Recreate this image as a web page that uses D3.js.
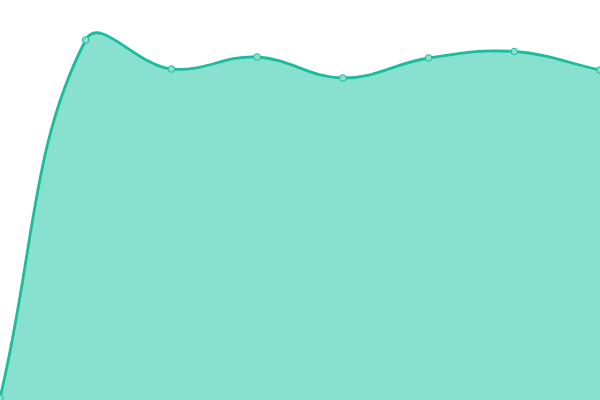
<!DOCTYPE html>
<html lang="en">
<head>
    <meta charset="UTF-8">
    <title>Area</title>
    <style>
        body { margin: 0; background: #fff; }
    </style>
</head>
<body></body>
<script src="https://cdn.jsdelivr.net/npm/d3@7"></script>
<script>
    const categories = [0, 1, 2, 3, 4, 5, 6, 7];
    const values = [2, 360, 331, 343, 322, 342, 348.5, 330];

    let width = 600;
    let height = 400;
    const tension = 0.4;

    let svg = d3.select("body")
                .append("svg")
                .attr("width", width)
                .attr("height", height)

    const x = d3.scaleLinear().domain([0, 7]).range([0, width]);
    const y = d3.scaleLinear().domain([0, 400]).range([height, 0]);

    const pts = categories.map((c, i) => [x(c), y(values[i])]);

    // bezier control points, weighted by distance to neighbours
    function controls(points) {
        return points.map((p, i) => {
            const prev = points[Math.max(i - 1, 0)];
            const next = points[Math.min(i + 1, points.length - 1)];
            const d01 = Math.hypot(p[0] - prev[0], p[1] - prev[1]);
            const d12 = Math.hypot(next[0] - p[0], next[1] - p[1]);
            let s01 = d01 / (d01 + d12) || 0;
            let s12 = d12 / (d01 + d12) || 0;
            const fa = tension * s01, fb = tension * s12;
            return {
                before: [p[0] - fa * (next[0] - prev[0]), p[1] - fa * (next[1] - prev[1])],
                after: [p[0] + fb * (next[0] - prev[0]), p[1] + fb * (next[1] - prev[1])]
            };
        });
    }

    function spline(ctx, points) {
        const cp = controls(points);
        ctx.moveTo(points[0][0], points[0][1]);
        for (let i = 1; i < points.length; i++) {
            ctx.bezierCurveTo(cp[i - 1].after[0], cp[i - 1].after[1],
                              cp[i].before[0], cp[i].before[1],
                              points[i][0], points[i][1]);
        }
        return ctx;
    }

    const linePath = spline(d3.path(), pts);

    const areaPath = spline(d3.path(), pts);
    areaPath.lineTo(pts[pts.length - 1][0], y(0));
    areaPath.lineTo(pts[0][0], y(0));
    areaPath.closePath();

    svg.append("path")
        .attr("d", areaPath.toString())
        .style("fill", "#88e0cf")

    svg.append("path")
        .attr("d", linePath.toString())
        .style("fill", "none")
        .style("stroke", "#1abc9c")
        .style("stroke-width", 2.8)

    svg.selectAll("circle")
        .data(pts)
        .enter()
        .append("circle")
        .attr("cx", d => d[0])
        .attr("cy", d => d[1])
        .attr("r", 3.3)
        .style("fill", "#88e0cf")
        .style("stroke", "#1abc9c")
        .style("stroke-width", 1)
</script>
</html>
